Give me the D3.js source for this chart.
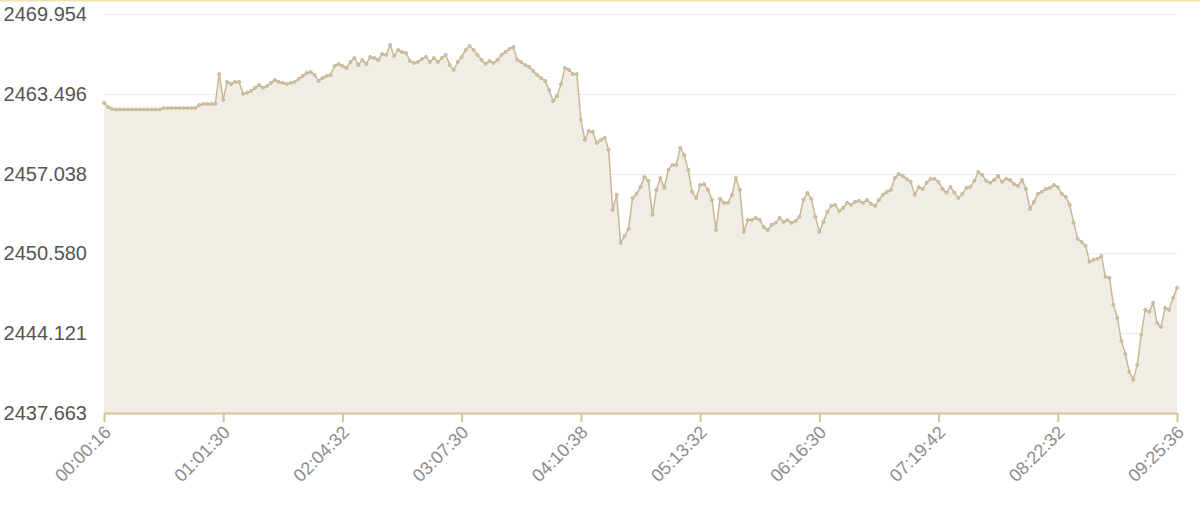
<!DOCTYPE html>
<html>
<head>
<meta charset="utf-8">
<script src="https://cdn.jsdelivr.net/npm/d3@7"></script>
<style>
  html, body { margin: 0; padding: 0; background: #fff; }
  svg { display: block; }
</style>
</head>
<body>
<svg id="chart" width="1200" height="519"></svg>
<script>
// ---- data ----
const xTickLabels = ["00:00:16", "01:01:30", "02:04:32", "03:07:30", "04:10:38",
                     "05:13:32", "06:16:30", "07:19:42", "08:22:32", "09:25:36"];
const yTickValues = [2437.663, 2444.121, 2450.580, 2457.038, 2463.496, 2469.954];
const values = [
  2462.76, 2462.43, 2462.27, 2462.23, 2462.23, 2462.23, 2462.23, 2462.23, 2462.23, 2462.23,
  2462.23, 2462.23, 2462.23, 2462.23, 2462.23, 2462.35, 2462.35, 2462.35, 2462.35, 2462.35,
  2462.35, 2462.35, 2462.35, 2462.35, 2462.60, 2462.68, 2462.68, 2462.68, 2462.68, 2465.10,
  2463.00, 2464.46, 2464.29, 2464.46, 2464.46, 2463.49, 2463.57, 2463.73, 2463.97, 2464.21,
  2463.97, 2464.13, 2464.38, 2464.62, 2464.46, 2464.38, 2464.29, 2464.38, 2464.46, 2464.70,
  2464.94, 2465.18, 2465.27, 2465.02, 2464.54, 2464.78, 2464.94, 2465.02, 2465.75, 2465.91,
  2465.75, 2465.59, 2466.07, 2466.40, 2465.83, 2466.24, 2465.91, 2466.48, 2466.40, 2466.24,
  2466.72, 2466.64, 2467.45, 2466.56, 2467.05, 2466.88, 2466.80, 2466.16, 2465.99, 2466.07,
  2466.32, 2466.48, 2466.07, 2466.40, 2466.07, 2466.40, 2466.64, 2465.83, 2465.43, 2466.07,
  2466.48, 2467.05, 2467.37, 2467.05, 2466.64, 2466.24, 2465.91, 2466.16, 2465.99, 2466.24,
  2466.64, 2466.88, 2467.13, 2467.29, 2466.24, 2466.07, 2465.83, 2465.67, 2465.35, 2465.02,
  2464.78, 2464.54, 2463.81, 2462.92, 2463.32, 2464.29, 2465.59, 2465.43, 2465.10, 2465.10,
  2461.38, 2459.76, 2460.49, 2460.41, 2459.52, 2459.76, 2459.93, 2458.96, 2454.10, 2455.32,
  2451.43, 2452.00, 2452.56, 2455.07, 2455.40, 2455.96, 2456.77, 2456.45, 2453.70, 2455.72,
  2456.69, 2455.88, 2457.34, 2457.74, 2457.74, 2459.12, 2458.55, 2457.34, 2455.56, 2455.07,
  2456.12, 2456.20, 2455.72, 2454.91, 2452.48, 2454.99, 2454.67, 2454.67, 2455.32, 2456.69,
  2455.72, 2452.32, 2453.29, 2453.29, 2453.45, 2453.29, 2452.73, 2452.48, 2452.89, 2453.05,
  2453.45, 2453.13, 2453.29, 2453.05, 2453.21, 2453.54, 2454.91, 2455.48, 2454.99, 2453.54,
  2452.32, 2453.13, 2453.94, 2454.43, 2454.51, 2454.02, 2454.26, 2454.67, 2454.51, 2454.75,
  2454.83, 2454.67, 2454.91, 2454.59, 2454.43, 2454.91, 2455.32, 2455.56, 2455.72, 2456.69,
  2457.01, 2456.85, 2456.61, 2456.37, 2455.32, 2455.96, 2455.80, 2456.29, 2456.61, 2456.61,
  2456.37, 2455.80, 2455.48, 2455.96, 2455.48, 2455.07, 2455.40, 2455.88, 2455.96, 2456.45,
  2457.17, 2456.93, 2456.45, 2456.29, 2456.53, 2456.85, 2456.37, 2456.61, 2456.53, 2456.20,
  2456.04, 2456.53, 2455.80, 2454.18, 2454.75, 2455.40, 2455.56, 2455.80, 2455.88, 2456.12,
  2455.96, 2455.40, 2455.15, 2454.51, 2453.05, 2451.76, 2451.51, 2451.19, 2449.90, 2450.06,
  2450.14, 2450.38, 2448.68, 2448.60, 2446.42, 2445.36, 2443.50, 2442.45, 2441.00, 2440.35,
  2441.56, 2443.99, 2446.01, 2445.85, 2446.58, 2444.96, 2444.63, 2446.17, 2446.01, 2446.98,
  2447.79
];

// ---- layout ----
const W = 1200, H = 519;
const margin = { left: 104, right: 23, top: 14, bottom: 106 };
const svg = d3.select("#chart");

// top border line
svg.append("line")
  .attr("x1", 0).attr("x2", W).attr("y1", 0.5).attr("y2", 0.5)
  .attr("stroke", "#f1e4b3").attr("stroke-width", 2);

const n = values.length;
const x = d3.scaleLinear().domain([0, n - 1]).range([margin.left, W - margin.right]);
const y = d3.scaleLinear().domain([yTickValues[0], yTickValues[yTickValues.length - 1]])
  .range([H - margin.bottom, margin.top]);

// gridlines
svg.append("g").selectAll("line").data(yTickValues.slice(1)).join("line")
  .attr("x1", margin.left).attr("x2", W - margin.right)
  .attr("y1", d => Math.round(y(d)) + 0.5).attr("y2", d => Math.round(y(d)) + 0.5)
  .attr("stroke", "#ebebeb").attr("stroke-width", 1);

// y axis labels
const yAxis = d3.axisLeft(y).tickValues(yTickValues).tickFormat(d3.format(".3f")).tickSize(0).tickPadding(17);
const gy = svg.append("g").attr("transform", `translate(${margin.left},0)`).call(yAxis);
gy.select(".domain").remove();
gy.selectAll("text")
  .attr("font-family", "'Liberation Sans', Arial, Helvetica, sans-serif")
  .attr("font-size", 20).attr("fill", "#555");

// area + line
const area = d3.area().x((d, i) => x(i)).y0(y(yTickValues[0])).y1(d => y(d));
const line = d3.line().x((d, i) => x(i)).y(d => y(d));
svg.append("path").datum(values).attr("d", area).attr("fill", "#f0ede6");
svg.append("path").datum(values).attr("d", line)
  .attr("fill", "none").attr("stroke", "#c9b893").attr("stroke-width", 1.5)
  .attr("stroke-linejoin", "round");
svg.append("g").selectAll("circle").data(values).join("circle")
  .attr("cx", (d, i) => x(i)).attr("cy", d => y(d)).attr("r", 1.5)
  .attr("fill", "#d6c9aa").attr("stroke", "#bca986").attr("stroke-width", 0.8);

// x axis
const per = (n - 1) / (xTickLabels.length - 1);
const tickIdx = xTickLabels.map((_, i) => i * per);
const xAxis = d3.axisBottom(x).tickValues(tickIdx)
  .tickFormat((d, i) => xTickLabels[i]).tickSize(9).tickSizeOuter(0).tickPadding(6);
const gx = svg.append("g").attr("transform", `translate(0,${H - margin.bottom})`).call(xAxis);
gx.select(".domain").attr("stroke", "#d3c29c").attr("stroke-width", 2);
gx.selectAll(".tick line").attr("stroke", "#d3c29c").attr("stroke-width", 2);
gx.selectAll("text")
  .attr("font-family", "'Liberation Sans', Arial, Helvetica, sans-serif")
  .attr("font-size", 18).attr("fill", "#8c8c8c")
  .attr("text-anchor", "end")
  .attr("dy", "0.35em")
  .attr("transform", "translate(3,16) rotate(-45)")
  .attr("y", 0).attr("x", 0);
</script>
</body>
</html>
